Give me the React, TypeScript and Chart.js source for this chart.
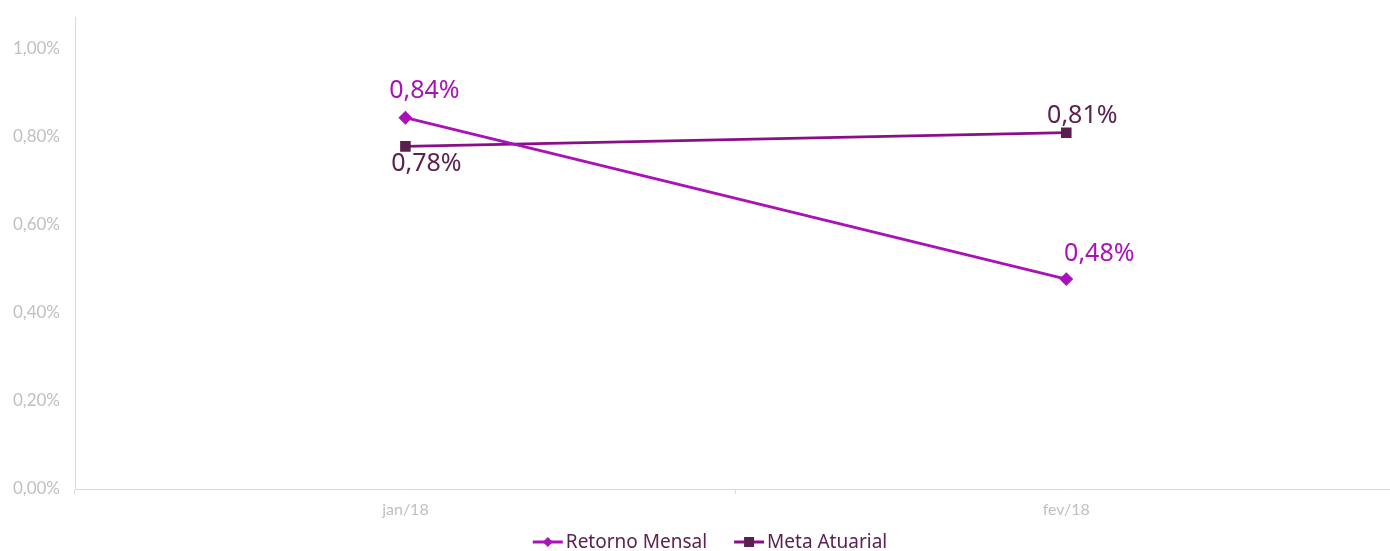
import React, { useEffect, useRef } from "react";
import { Chart, registerables } from "chart.js";

Chart.register(...registerables);

const categories = ["jan/18", "fev/18"];
const retornoMensal = [0.842, 0.476];
const metaAtuarial = [0.777, 0.808];
const yTicks = [0, 0.2, 0.4, 0.6, 0.8, 1.0];

const fmt = (v: number) => v.toFixed(2).replace(".", ",") + "%";

// label offsets relative to point (style/layout only)
const labelOffsets = [
  [ [19, -27], [33, -25] ],
  [ [21, 17], [16, -17] ],
];
const labelColors = ["#a912b8", "#5b2150"];

const dataLabelPlugin = {
  id: "dataLabels",
  afterDatasetsDraw(chart: any) {
    const ctx = chart.ctx;
    ctx.save();
    ctx.font = "25px 'Noto Sans'";
    ctx.textAlign = "center";
    ctx.textBaseline = "middle";
    chart.data.datasets.forEach((ds: any, di: number) => {
      const meta = chart.getDatasetMeta(di);
      meta.data.forEach((pt: any, i: number) => {
        const [dx, dy] = labelOffsets[di][i];
        ctx.fillStyle = labelColors[di];
        ctx.fillText(fmt(ds.data[i]), pt.x + dx, pt.y + dy);
      });
    });
    ctx.restore();
  },
};

const legendPlugin = {
  id: "customLegend",
  afterDraw(chart: any) {
    const ctx = chart.ctx;
    ctx.save();
    ctx.font = "19px 'Noto Sans'";
    ctx.textBaseline = "middle";
    const lineW = 30;
    const gapText = 3;
    const gapItem = 27;
    const items = chart.data.datasets.map((ds: any) => ({
      ds,
      w: lineW + gapText + ctx.measureText(ds.label).width,
    }));
    const total = items.reduce((s: number, it: any) => s + it.w, 0) + gapItem * (items.length - 1);
    let x = 710 - total / 2;
    const y = 542;
    items.forEach((it: any) => {
      const ds = it.ds;
      ctx.strokeStyle = ds.borderColor;
      ctx.lineWidth = 3;
      ctx.beginPath();
      ctx.moveTo(x, y);
      ctx.lineTo(x + lineW, y);
      ctx.stroke();
      ctx.fillStyle = ds.pointBackgroundColor;
      const cx = x + lineW / 2;
      if (ds.pointStyle === "rectRot") {
        ctx.beginPath();
        ctx.moveTo(cx, y - 5);
        ctx.lineTo(cx + 5, y);
        ctx.lineTo(cx, y + 5);
        ctx.lineTo(cx - 5, y);
        ctx.closePath();
        ctx.fill();
      } else {
        ctx.fillRect(cx - 5, y - 5, 10, 10);
      }
      ctx.fillStyle = "#5b2150";
      ctx.fillText(ds.label, x + lineW + gapText, y + 1);
      x += it.w + gapItem;
    });
    ctx.restore();
  },
};

const CANVAS_W = 1405;

export default function App() {
  const ref = useRef<HTMLCanvasElement>(null);
  useEffect(() => {
    document.body.style.margin = "0";
    document.body.style.overflow = "hidden";
    const chart = new Chart(ref.current!, {
      type: "line",
      data: {
        labels: categories,
        datasets: [
          {
            label: "Retorno Mensal",
            data: retornoMensal,
            borderColor: "#a912b8",
            backgroundColor: "#a912b8",
            pointBackgroundColor: "#a912b8",
            pointBorderColor: "#a912b8",
            pointStyle: "rectRot",
            pointRadius: 5,
            borderWidth: 2.8,
            tension: 0,
          },
          {
            label: "Meta Atuarial",
            data: metaAtuarial,
            borderColor: "#8a0f87",
            backgroundColor: "#5b1f4f",
            pointBackgroundColor: "#5b1f4f",
            pointBorderColor: "#5b1f4f",
            pointStyle: "rect",
            pointRadius: 5.5,
            borderWidth: 2.8,
            tension: 0,
          },
        ],
      },
      options: {
        animation: false,
        responsive: false,
        layout: { padding: { top: 6, right: 0, bottom: 32, left: 0 } },
        plugins: {
          legend: { display: false },
          tooltip: { enabled: false },
        },
        scales: {
          x: {
            offset: true,
            grid: {
              display: true,
              offset: true,
              drawOnChartArea: false,
              tickLength: 5,
              color: "#d9d9d9",
            },
            border: { display: true, color: "#d9d9d9", width: 1 },
            ticks: {
              color: "#bfbfbf",
              font: { family: "Lato", size: 16 },
              padding: 6,
              maxRotation: 0,
            },
            afterFit(scale: any) {
              scale.height = 30;
              scale.paddingRight = 0;
              scale.paddingLeft = 0;
            },
          },
          y: {
            min: 0,
            max: 1.07,
            grid: { display: false },
            border: { display: true, color: "#d9d9d9", width: 1 },
            ticks: {
              color: "#bfbfbf",
              font: { family: "Lato", size: 17 },
              padding: 7,
              callback: (v: any) => fmt(Number(v)),
            },
            afterBuildTicks(scale: any) {
              scale.ticks = yTicks.map((v) => ({ value: v }));
            },
            afterFit(scale: any) {
              scale.width = 75;
            },
          },
        },
      },
      plugins: [dataLabelPlugin, legendPlugin],
    });
    return () => chart.destroy();
  }, []);
  return (
    <div style={{ position: "absolute", left: 0, top: 0, width: 1390, height: 551, overflow: "hidden" }}>
      <canvas ref={ref} width={CANVAS_W} height={551} style={{ width: CANVAS_W, height: 551, display: "block" }} />
    </div>
  );
}
